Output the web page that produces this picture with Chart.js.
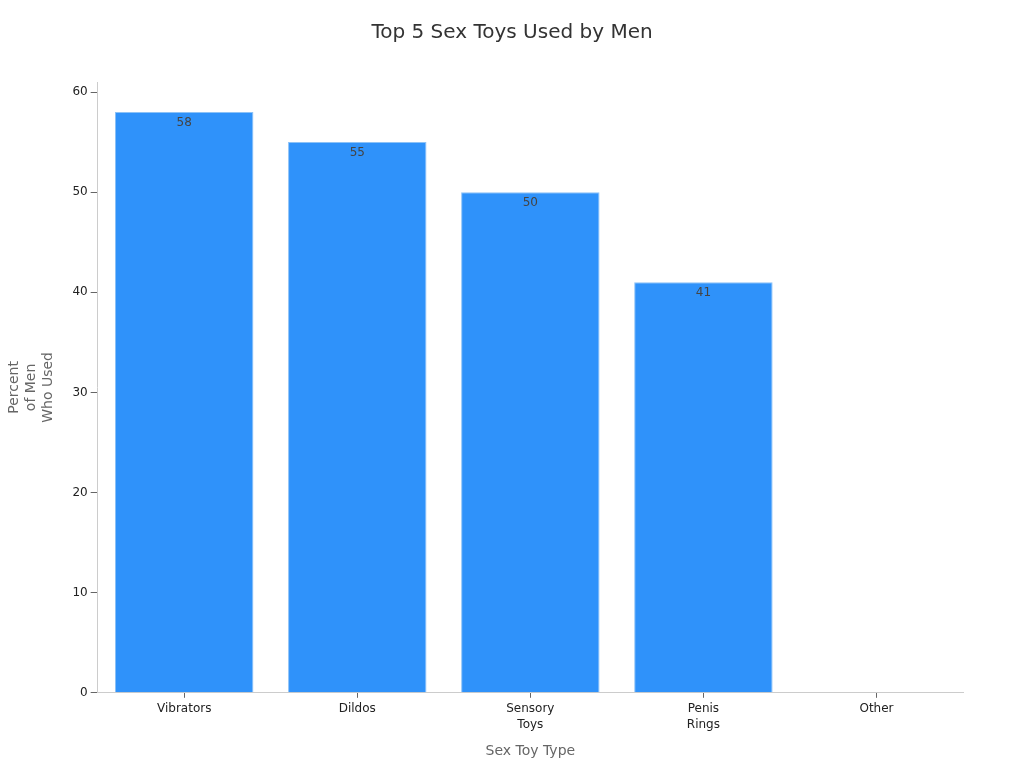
<!DOCTYPE html>
<html>
<head>
<meta charset="utf-8">
<script src="https://cdn.jsdelivr.net/npm/chart.js@4"></script>
<style>
  html, body { margin: 0; padding: 0; background: #fff; }
  #wrap { width: 1024px; height: 768px; }
</style>
</head>
<body>
<div id="wrap"><canvas id="chart"></canvas></div>
<script>
// Datos
const chartTitle = "Top 5 Sex Toys Used by Men";
const toyTypes = [["Vibrators"], ["Dildos"], ["Sensory", "Toys"], ["Penis", "Rings"], ["Other"]];
const percentUsed = [58, 55, 50, 41, null];
const yTicks = [0, 10, 20, 30, 40, 50, 60];

// etiquetas de valor dentro de la barra + titulo centrado en el lienzo
const valueLabels = {
  id: "valueLabels",
  afterDatasetsDraw(chart) {
    const ctx = chart.ctx;
    const meta = chart.getDatasetMeta(0);
    ctx.save();
    ctx.font = "12px 'DejaVu Sans'";
    ctx.fillStyle = "#444";
    ctx.textAlign = "center";
    ctx.textBaseline = "middle";
    meta.data.forEach((bar, i) => {
      if (percentUsed[i] == null) return;
      ctx.fillText(percentUsed[i], bar.x, bar.y + 11);
    });
    ctx.font = "20px 'DejaVu Sans'";
    ctx.fillStyle = "#333";
    ctx.fillText(chartTitle, chart.width / 2, 33);
    ctx.restore();
  },
};

Chart.defaults.font.family = "'DejaVu Sans', sans-serif";

const chart = new Chart(document.getElementById("chart"), {
  type: "bar",
  data: {
    labels: toyTypes,
    datasets: [
      {
        data: percentUsed,
        backgroundColor: "#2f92fa",
        borderColor: "#8cc2f7",
        borderWidth: 1,
        borderSkipped: "bottom",
        barPercentage: 0.8,
        categoryPercentage: 1,
      },
    ],
  },
  options: {
    responsive: true,
    maintainAspectRatio: false,
    animation: false,
    layout: { padding: { left: 2, right: 61, top: 82, bottom: 4 } },
    plugins: {
      legend: { display: false },
      tooltip: { enabled: false },
      title: { display: false },
    },
    scales: {
      x: {
        grid: { display: true, drawOnChartArea: false, offset: false, color: "#666", tickLength: 5 },
        border: { display: true, color: "#ccc" },
        ticks: { color: "#222", font: { size: 12, lineHeight: 1.35 }, padding: 3, maxRotation: 0 },
        title: {
          display: true,
          text: "Sex Toy Type",
          color: "#666",
          font: { size: 14 },
          padding: { top: 7 },
        },
      },
      y: {
        min: 0,
        max: 61,
        afterBuildTicks: (axis) => {
          axis.ticks = yTicks.map((v) => ({ value: v }));
        },
        grid: { display: true, drawOnChartArea: false, color: "#666", tickLength: 7 },
        border: { display: true, color: "#ccc" },
        ticks: { color: "#222", font: { size: 12 }, padding: 3 },
        title: {
          display: true,
          text: ["Percent", "of Men", "Who Used"],
          color: "#666",
          font: { size: 14, lineHeight: 1.2 },
          padding: { bottom: 13 },
        },
      },
    },
  },
  plugins: [valueLabels],
});
</script>
</body>
</html>
